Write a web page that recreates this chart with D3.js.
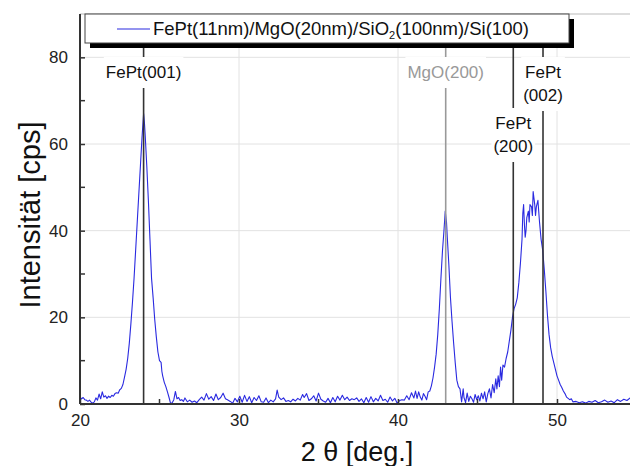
<!DOCTYPE html>
<html>
<head>
<meta charset="utf-8">
<script src="https://cdn.jsdelivr.net/npm/d3@7/dist/d3.min.js"></script>
<style>
  body { margin: 0; background: #fff; }
  text { font-family: "Liberation Sans", Arial, sans-serif; }
</style>
</head>
<body>
<svg id="chart" width="630" height="466"></svg>
<script>
// XRD scan, [2theta, counts]
var scan = [
  [20.0,1.6],[20.1,1.2],[20.2,1.5],[20.3,1.0],[20.4,0.9],[20.5,0.6],[20.6,0.9],[20.7,0.4],[20.8,0.2],[20.9,0.5],
  [21.0,1.4],[21.1,0.9],[21.2,2.3],[21.3,1.2],[21.4,2.8],[21.5,1.6],[21.6,1.9],[21.7,1.3],[21.8,1.8],[21.9,1.5],
  [22.0,2.0],[22.1,1.8],[22.2,2.4],[22.3,2.6],[22.4,2.5],[22.5,3.3],[22.6,3.6],[22.7,4.5],[22.8,6.2],[22.9,8.0],
  [23.0,10.5],[23.1,14.0],[23.2,18.5],[23.3,23.5],[23.4,29.0],[23.5,35.5],[23.6,42.0],[23.7,48.5],[23.8,55.0],[23.9,61.5],
  [24.0,67.0],[24.05,65.0],[24.1,62.0],[24.2,55.0],[24.3,47.0],[24.4,38.0],[24.5,29.0],[24.6,24.5],[24.7,19.5],[24.8,15.5],
  [24.9,12.0],[25.0,10.0],[25.1,9.6],[25.15,7.5],[25.2,6.5],[25.3,5.0],[25.4,4.0],[25.5,2.8],[25.6,1.5],[25.7,0.1],
  [25.8,0.3],[25.9,1.0],[26.0,2.9],[26.1,1.2],[26.2,1.5],[26.3,0.8],[26.4,1.0],[26.5,0.6],
  [26.6,1.4],[26.75,0.5],[26.9,0.9],[27.05,0.4],[27.2,0.7],[27.35,0.3],[27.5,1.0],[27.65,1.6],[27.8,0.9],[27.95,2.4],
  [28.1,1.1],[28.25,1.7],[28.4,0.8],[28.55,2.3],[28.7,1.0],[28.85,1.5],[29.0,2.5],[29.15,1.2],[29.3,0.9],[29.45,0.6],
  [29.6,0.2],[29.75,1.3],[29.9,0.5],[30.05,1.8],[30.2,0.4],[30.35,2.0],[30.5,0.6],[30.65,1.7],[30.8,0.3],[30.95,1.5],
  [31.1,0.8],[31.25,1.9],[31.4,0.5],[31.55,0.4],[31.7,1.4],[31.85,0.3],[32.0,0.9],[32.15,0.5],[32.3,1.2],[32.4,3.2],
  [32.5,1.6],[32.65,1.0],[32.8,1.4],[32.95,0.6],[33.1,0.8],[33.25,0.5],[33.4,1.1],[33.55,0.7],[33.7,1.3],[33.85,0.9],
  [34.0,2.2],[34.1,1.5],[34.25,2.4],[34.4,0.8],[34.55,1.2],[34.7,1.9],[34.85,0.7],[35.0,2.5],[35.15,1.1],[35.3,0.7],
  [35.45,0.4],[35.6,1.3],[35.75,0.3],[35.9,1.5],[36.05,0.5],[36.2,1.8],[36.35,0.9],[36.5,2.0],[36.65,1.0],[36.8,1.6],
  [36.95,0.8],[37.1,1.2],[37.25,1.0],[37.4,1.4],[37.55,0.6],[37.7,1.2],[37.85,0.3],[38.0,1.5],[38.15,0.4],[38.3,1.7],
  [38.45,0.5],[38.6,1.3],[38.75,0.7],[38.9,2.0],[39.05,0.8],[39.2,1.1],[39.35,0.4],[39.5,1.6],[39.65,0.7],[39.8,1.3],
  [39.95,0.2],[40.1,0.8],[40.25,1.0],[40.4,0.9],[40.55,1.9],[40.7,1.0],[40.85,2.6],[41.0,1.4],[41.1,3.0],[41.2,1.3],
  [41.3,2.8],[41.4,1.6],[41.5,0.9],[41.6,2.4],[41.7,1.8],[41.8,1.0],[41.9,2.8],[42.0,3.0],[42.1,4.2],[42.2,6.0],
  [42.3,8.5],[42.4,11.5],[42.5,16.0],[42.6,22.0],[42.7,29.0],[42.8,35.5],[42.9,40.5],[42.97,44.5],[43.05,42.0],[43.1,38.5],
  [43.2,32.0],[43.3,24.5],[43.4,19.0],[43.5,14.0],[43.6,9.5],[43.7,5.5],[43.8,4.0],[43.9,3.5],[44.0,0.5],[44.1,3.5],
  [44.15,1.5],[44.25,0.3],[44.35,2.5],[44.45,0.6],[44.55,1.8],[44.65,1.2],[44.75,0.4],[44.85,2.2],[44.95,1.0],[45.05,1.9],
  [45.15,0.7],[45.25,2.5],[45.35,1.2],[45.45,2.8],[45.55,0.5],[45.65,2.4],[45.75,3.5],[45.85,1.4],[45.95,4.5],[46.05,2.6],
  [46.15,5.8],[46.22,3.5],[46.3,6.5],[46.38,4.0],[46.45,8.5],[46.52,5.5],[46.6,9.0],[46.7,8.5],[46.8,10.5],[46.9,12.0],
  [47.0,14.5],[47.1,17.0],[47.2,20.0],[47.3,22.0],[47.4,23.0],[47.5,24.5],[47.6,28.0],[47.7,32.5],[47.8,38.0],[47.85,44.0],
  [47.9,46.0],[47.95,41.5],[48.0,38.5],[48.05,40.0],[48.1,43.0],[48.2,44.5],[48.25,42.0],[48.3,46.0],[48.4,45.5],[48.45,43.5],
  [48.5,49.0],[48.55,47.5],[48.6,46.0],[48.65,43.5],[48.7,45.5],[48.8,47.0],[48.85,44.5],[48.9,42.0],[49.0,38.0],[49.1,35.5],
  [49.2,31.0],[49.3,26.0],[49.4,20.5],[49.5,16.0],[49.6,13.0],[49.7,11.0],[49.8,9.5],[49.9,8.0],[50.0,6.5],[50.1,5.5],
  [50.2,4.5],[50.3,3.8],[50.4,3.0],[50.5,2.4],[50.6,1.6],[50.7,1.3],[50.8,1.0],[50.9,1.2],[51.0,0.5],[51.2,0.6],
  [51.4,0.3],[51.6,0.5],[51.8,0.2],[52.0,0.6],[52.2,0.4],[52.4,0.8],[52.6,0.3],[52.8,0.5],[53.0,0.9],[53.2,0.4],
  [53.4,0.7],[53.6,0.3],[53.8,1.0],[54.0,0.6],[54.2,1.1],[54.4,0.8],[54.6,1.4],[54.8,0.9],[55.0,1.2]
];

// reflection markers
var peakPos = [24.0, 43.0, 47.25, 49.12];
var peakLabels = [["FePt(001)"], ["MgO(200)"], ["FePt", "(200)"], ["FePt", "(002)"]];
var peakLabelTop = [72, 72, 123, 72];   // y of first label line
var peakColors = ["#333", "#999", "#333", "#333"];

var xTicks = [20, 30, 40, 50];
var xMinor = [25, 35, 45, 55];
var yTicks = [0, 20, 40, 60, 80];
var yMinor = [10, 30, 50, 70];

var legendText = "FePt(11nm)/MgO(20nm)/SiO";

var svg = d3.select("#chart");
var pL = 80, pR = 636.5, pT = 14, pB = 404;

var x = d3.scaleLinear().domain([20, 55]).range([pL, pR]);
var y = d3.scaleLinear().domain([0, 90]).range([pB, pT]);

// grid
svg.append("g").selectAll("line").data(xTicks.slice(1)).enter().append("line")
  .attr("x1", d => x(d)).attr("x2", d => x(d)).attr("y1", pT).attr("y2", pB)
  .attr("stroke", "#e2e2e2").attr("stroke-width", 1);
svg.append("g").selectAll("line").data(yTicks.slice(1)).enter().append("line")
  .attr("x1", pL).attr("x2", pR).attr("y1", d => y(d)).attr("y2", d => y(d))
  .attr("stroke", "#e2e2e2").attr("stroke-width", 1);

// top frame
svg.append("line").attr("x1", pL).attr("x2", pR).attr("y1", pT).attr("y2", pT)
  .attr("stroke", "#bbb");

// data
var line = d3.line().x(d => x(d[0])).y(d => y(d[1]));
svg.append("path").datum(scan).attr("d", line)
  .attr("fill", "none").attr("stroke", "#2a2ae0").attr("stroke-width", 1.1)
  .attr("stroke-linejoin", "round");

// reference lines with labels
peakPos.forEach(function(p, i) {
  svg.append("line").attr("x1", x(p)).attr("x2", x(p)).attr("y1", pT).attr("y2", pB)
    .attr("stroke", peakColors[i]).attr("stroke-width", 1.6);
  var lines = peakLabels[i];
  var g = svg.append("g");
  var bg = g.append("rect").attr("fill", "#fff");
  var t = g.append("text").attr("text-anchor", "middle").attr("font-size", 17)
    .attr("fill", i == 1 ? "#999" : "#111");
  lines.forEach(function(s, k) {
    t.append("tspan").attr("x", x(p)).attr("y", peakLabelTop[i] + 6 + k * 23).text(s);
  });
  var bb = t.node().getBBox();
  bg.attr("x", bb.x - 2).attr("y", bb.y - 6).attr("width", bb.width + 4).attr("height", bb.height + 12);
});

// axes
var xAxis = d3.axisBottom(x).tickValues(xTicks).tickSize(-5).tickPadding(10);
var gx = svg.append("g").attr("transform", "translate(0," + pB + ")").call(xAxis);
gx.selectAll(".tick line").attr("stroke", "#333").attr("stroke-width", 1.5);
gx.append("g").selectAll("line").data(xMinor).enter().append("line")
  .attr("x1", d => x(d)).attr("x2", d => x(d)).attr("y1", 0).attr("y2", -5)
  .attr("stroke", "#333").attr("stroke-width", 1.5);

var yAxis = d3.axisLeft(y).tickValues(yTicks).tickSize(-5).tickPadding(12);
var gy = svg.append("g").attr("transform", "translate(" + pL + ",0)").call(yAxis);
gy.selectAll(".tick line").attr("stroke", "#333").attr("stroke-width", 1.5);
gy.append("g").selectAll("line").data(yMinor).enter().append("line")
  .attr("x1", 0).attr("x2", 5).attr("y1", d => y(d)).attr("y2", d => y(d))
  .attr("stroke", "#333").attr("stroke-width", 1.5);

[gx, gy].forEach(function(g) {
  g.select(".domain").attr("stroke", "#333").attr("stroke-width", 2);
  g.selectAll(".tick text").attr("font-size", 17).attr("fill", "#222")
    .attr("font-family", "Liberation Sans, Arial, sans-serif");
});
gy.select(".domain").attr("d", "M0," + pT + "V" + pB);
gx.select(".domain").attr("d", "M" + pL + ",0H" + pR);

// legend
var lg = svg.append("g");
lg.append("rect").attr("x", 90).attr("y", 19).attr("width", 484).attr("height", 29).attr("fill", "#000");
lg.append("rect").attr("x", 85).attr("y", 14).attr("width", 484).attr("height", 29)
  .attr("fill", "#fff").attr("stroke", "#444").attr("stroke-width", 1);
lg.append("line").attr("x1", 117).attr("x2", 150).attr("y1", 29).attr("y2", 29)
  .attr("stroke", "#2a2ae0").attr("stroke-width", 1.2);
var lt = lg.append("text").attr("x", 153).attr("y", 35).attr("font-size", 18.5).attr("fill", "#111");
lt.append("tspan").text(legendText);
lt.append("tspan").attr("font-size", 11).attr("dy", 4).text("2");
lt.append("tspan").attr("dy", -4).text("(100nm)/Si(100)");

// axis titles
svg.append("text").attr("transform", "translate(40,215) rotate(-90)")
  .attr("text-anchor", "middle").attr("font-size", 29).attr("fill", "#111")
  .text("Intensität [cps]");
svg.append("text").attr("x", 357).attr("y", 461).attr("text-anchor", "middle")
  .attr("font-size", 27).attr("fill", "#111").text("2 θ [deg.]");
</script>
</body>
</html>
